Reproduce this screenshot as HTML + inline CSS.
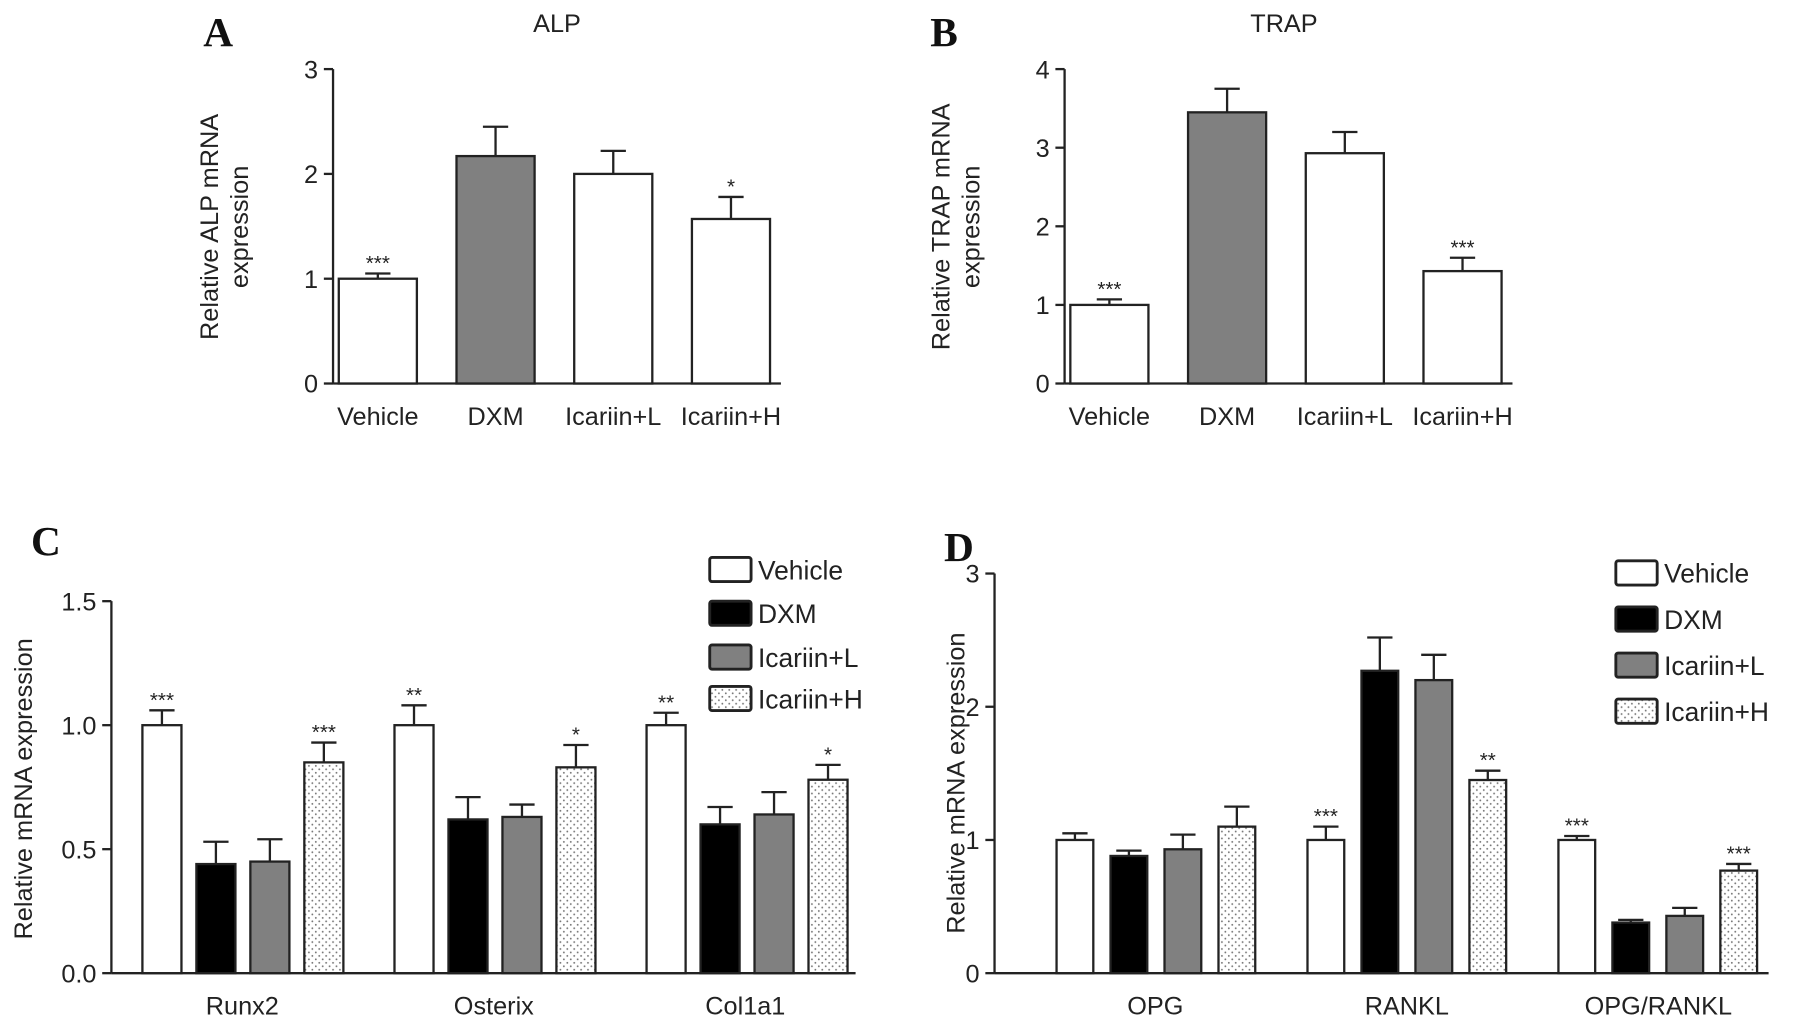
<!DOCTYPE html>
<html><head><meta charset="utf-8"><style>
html,body{margin:0;padding:0;background:#fff}
svg{display:block}
text{font-family:"Liberation Sans",sans-serif;fill:#222}
text.serif{font-family:"Liberation Serif",serif;font-weight:bold;fill:#111}
</style></head><body>
<svg id="fig" width="1795" height="1025" viewBox="0 0 1563 890" preserveAspectRatio="none" xmlns="http://www.w3.org/2000/svg">
<defs><pattern id="dots" width="6" height="6" patternUnits="userSpaceOnUse"><rect width="6" height="6" fill="#fff"/><circle cx="2" cy="2" r="0.8" fill="#777"/><circle cx="5" cy="5" r="0.8" fill="#777"/></pattern></defs>
</svg>
<script>
// Panel A
const aCats=["Vehicle","DXM","Icariin+L","Icariin+H"];
const aVals=[1.0,2.17,2.0,1.57];
const aErr=[0.05,0.28,0.22,0.21];
const aStars=["***","","","*"];
const aTicks=[0,1,2,3];
// Panel B
const bCats=["Vehicle","DXM","Icariin+L","Icariin+H"];
const bVals=[1.0,3.45,2.93,1.43];
const bErr=[0.07,0.3,0.27,0.17];
const bStars=["***","","","***"];
const bTicks=[0,1,2,3,4];
// Panel C
const cGroups=["Runx2","Osterix","Col1a1"];
const seriesNames=["Vehicle","DXM","Icariin+L","Icariin+H"];
const cVals=[[1.0,0.44,0.45,0.85],[1.0,0.62,0.63,0.83],[1.0,0.6,0.64,0.78]];
const cErr=[[0.06,0.09,0.09,0.08],[0.08,0.09,0.05,0.09],[0.05,0.07,0.09,0.06]];
const cStars=[["***","","","***"],["**","","","*"],["**","","","*"]];
const cTicks=["0.0","0.5","1.0","1.5"];
// Panel D
const dGroups=["OPG","RANKL","OPG/RANKL"];
const dVals=[[1.0,0.88,0.93,1.1],[1.0,2.27,2.2,1.45],[1.0,0.38,0.43,0.77]];
const dErr=[[0.05,0.04,0.11,0.15],[0.1,0.25,0.19,0.07],[0.03,0.02,0.06,0.05]];
const dStars=[["","","",""],["***","","","**"],["***","","","***"]];
const dTicks=[0,1,2,3];

const svg=document.getElementById('fig');
const NS="http://www.w3.org/2000/svg";
function el(tag,attrs,parent){const e=document.createElementNS(NS,tag);for(const k in attrs)e.setAttribute(k,attrs[k]);(parent||svg).appendChild(e);return e;}
function txt(s,x,y,size,anchor,parent,extra){const t=el('text',Object.assign({x:x,y:y,'font-size':size,'text-anchor':anchor||'middle'},extra||{}),parent);t.textContent=s;return t;}
const fills=["#fff","#000","#808080","url(#dots)"];

function panel(name,cfg){
  const g=el('g',{});
  
  
  const y=v=>cfg.y0-(v/cfg.max)*(cfg.y0-cfg.yTop);
  const ax=el('line',{x1:cfg.ax,y1:cfg.yTop,x2:cfg.ax,y2:cfg.y0,stroke:'#222','stroke-width':2},g);
  
  
  const xa=el('line',{x1:cfg.ax,y1:cfg.y0,x2:cfg.xEnd,y2:cfg.y0,stroke:'#222','stroke-width':2},g);
  
  
  cfg.ticks.forEach(t=>{
    const yy=y(parseFloat(t));
    el('line',{x1:cfg.ax-8,y1:yy,x2:cfg.ax,y2:yy,stroke:'#222','stroke-width':2},g);
    const tl=txt(String(t),cfg.ax-13,yy+8,22,'end',g);
    
    
  });
  cfg.bars.forEach(b=>{
    const top=y(b.v), et=y(b.v+b.e), cx=b.x+b.w/2;
    const r=el('rect',{x:b.x,y:top,width:b.w,height:cfg.y0-top,fill:b.fill,stroke:'#222','stroke-width':2},g);
    
    
    el('line',{x1:cx,y1:top,x2:cx,y2:et,stroke:'#222','stroke-width':2},g);
    el('line',{x1:cx-11,y1:et,x2:cx+11,y2:et,stroke:'#222','stroke-width':2},g);
    if(b.s){const s=txt(b.s,cx,et-3,18,'middle',g);
      
      }
  });
  cfg.labels.forEach(l=>{const t=txt(l.t,l.x,cfg.y0+36,22,'middle',g);
    
    });
  return {g:g};
}

// A
const barsA=aVals.map((v,i)=>({x:295+i*102.5,w:68,v:v,e:aErr[i],s:aStars[i],fill:i==1?'#808080':'#fff'}));
panel('panel-a',{ax:290,y0:333,yTop:60,max:3,xEnd:680,ticks:aTicks,bars:barsA,labels:aCats.map((c,i)=>({t:c,x:329+i*102.5}))});
// B
const barsB=bVals.map((v,i)=>({x:932+i*102.5,w:68,v:v,e:bErr[i],s:bStars[i],fill:i==1?'#808080':'#fff'}));
panel('panel-b',{ax:927,y0:333,yTop:60,max:4,xEnd:1317,ticks:bTicks,bars:barsB,labels:bCats.map((c,i)=>({t:c,x:966+i*102.5}))});
// C
const barsC=[];cVals.forEach((gv,gi)=>gv.forEach((v,si)=>barsC.push({x:124+gi*219.5+si*47,w:34,v:v,e:cErr[gi][si],s:cStars[gi][si],fill:fills[si]})));
panel('panel-c',{ax:97,y0:845,yTop:522,max:1.5,xEnd:745,ticks:cTicks,bars:barsC,labels:cGroups.map((c,i)=>({t:c,x:211+i*219}))});
// D
const barsD=[];dVals.forEach((gv,gi)=>gv.forEach((v,si)=>barsD.push({x:920+gi*218.5+si*47,w:32,v:v,e:dErr[gi][si],s:dStars[gi][si],fill:fills[si]})));
panel('panel-d',{ax:866,y0:845,yTop:498,max:3,xEnd:1540,ticks:dTicks,bars:barsD,labels:dGroups.map((c,i)=>({t:c,x:1006+i*219}))});

// titles & letters
[["A",190,40],["B",822,40],["C",40,482],["D",835,487]].forEach(a=>{
  const t=txt(a[0],a[1],a[2],36,'middle',null,{'class':'serif'});
  
  
});
[["ALP",485,28],["TRAP",1118,28]].forEach(a=>{
  const t=txt(a[0],a[1],a[2],22,'middle');
  
  
});
function ylab(lines,x,y){lines.forEach((l,i)=>{const t=txt(l,x+i*26,y,22,'middle',null,{transform:`rotate(-90 ${x+i*26} ${y})`});
  
  });}
ylab(["Relative ALP mRNA","expression"],190,197);
ylab(["Relative TRAP mRNA","expression"],827,197);
ylab(["Relative mRNA expression"],28,685);
ylab(["Relative mRNA expression"],840,680);

function legend(x,ys){seriesNames.forEach((n,i)=>{
  const g=el('g',{});
  
  
  el('rect',{x:x,y:ys[i]-10,width:36,height:21,fill:fills[i],stroke:'#222','stroke-width':2.5,rx:2},g);
  txt(n,x+42,ys[i]+9,23,'start',g);
});}
legend(618,[494,532,570,606]);
legend(1407,[497,537,577,617]);
</script>
</body></html>
